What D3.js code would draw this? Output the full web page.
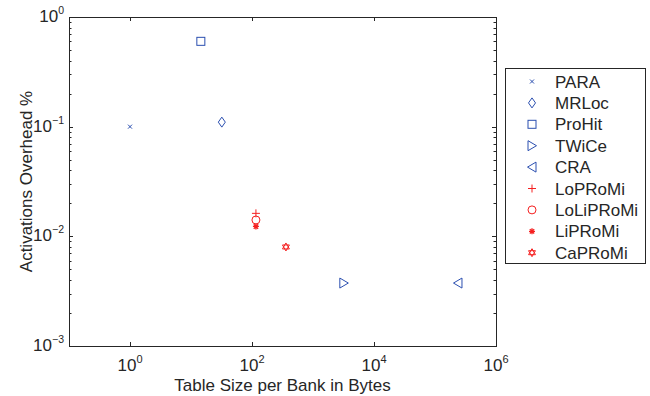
<!DOCTYPE html>
<html>
<head>
<meta charset="utf-8">
<script src="https://cdn.jsdelivr.net/npm/d3@7"></script>
<style>
body { margin: 0; background: #fff; }
svg { font-family: "Liberation Sans", Arial, sans-serif; }
</style>
</head>
<body>
<svg width="650" height="396"></svg>
<script>
const names = ['PARA', 'MRLoc', 'ProHit', 'TWiCe', 'CRA', 'LoPRoMi', 'LoLiPRoMi', 'LiPRoMi', 'CaPRoMi'];
const tableSize = [1, 32, 14.5, 3200, 238000, 116, 116, 116, 360];
const overhead = [0.1, 0.11, 0.6, 0.00375, 0.00375, 0.0162, 0.0141, 0.0123, 0.0080];
const markers = ['x', 'diamond', 'square', 'right', 'left', 'plus', 'circle', 'star', 'hexagram'];
const colors = ['#2b4fb0', '#2b4fb0', '#2b4fb0', '#2b4fb0', '#2b4fb0', '#f52020', '#f52020', '#f52020', '#f52020'];
const xTicks = [0, 2, 4, 6];
const yTicks = [0, -1, -2, -3];

const svg = d3.select('svg');
const pLeft = 69, pRight = 496, pTop = 17, pBottom = 346;
const fs = 17;

const x = d3.scaleLog().domain([0.1, 1e6]).range([pLeft, pRight]);
const y = d3.scaleLog().domain([1e-3, 1]).range([pBottom, pTop]);

// box
svg.append('rect')
.attr('x', pLeft + 0.5).attr('y', pTop + 0.5)
.attr('width', pRight - pLeft).attr('height', pBottom - pTop)
.attr('fill', 'none').attr('stroke', '#262626').attr('stroke-width', 1);

const ticks = svg.append('g').attr('stroke', '#262626').attr('stroke-width', 1);
xTicks.forEach(e => {
    const px = Math.round(x(Math.pow(10, e))) + 0.5;
    ticks.append('line').attr('x1', px).attr('x2', px).attr('y1', pBottom).attr('y2', pBottom - 4);
    ticks.append('line').attr('x1', px).attr('x2', px).attr('y1', pTop).attr('y2', pTop + 4);
});
yTicks.forEach(e => {
    for (let k = 1; k <= 9; k++) {
        const v = k * Math.pow(10, e);
        if (e === 0 && k > 1) continue;
        const py = Math.round(y(v)) + 0.5;
        const len = k === 1 ? 4 : 2.5;
        ticks.append('line').attr('x1', pLeft).attr('x2', pLeft + len).attr('y1', py).attr('y2', py);
        ticks.append('line').attr('x1', pRight).attr('x2', pRight - len).attr('y1', py).attr('y2', py);
    }
});

// tick labels
xTicks.forEach(e => {
    const t = svg.append('text')
    .attr('x', x(Math.pow(10, e))).attr('y', 371)
    .attr('text-anchor', 'middle')
    .attr('font-size', fs).attr('fill', '#262626');
    t.append('tspan').text('10');
    t.append('tspan').attr('dy', -8).attr('font-size', 11).text(e);
});
yTicks.forEach(e => {
    const t = svg.append('text')
    .attr('x', 64).attr('y', y(Math.pow(10, e)) + 5)
    .attr('text-anchor', 'end')
    .attr('font-size', fs).attr('fill', '#262626');
    t.append('tspan').text('10');
    t.append('tspan').attr('dy', -8).attr('font-size', 10.5).text(e === 0 ? '0' : '\u2212' + (-e));
});

svg.append('text')
.attr('x', (pLeft + pRight) / 2).attr('y', 391)
.attr('text-anchor', 'middle').attr('font-size', fs).attr('fill', '#262626')
.text('Table Size per Bank in Bytes');

svg.append('text')
.attr('transform', 'translate(32,' + ((pTop + pBottom) / 2) + ') rotate(-90)')
.attr('text-anchor', 'middle').attr('font-size', fs).attr('fill', '#262626')
.text('Activations Overhead %');

function drawMarker(g, type, color) {
    let p;
    if (type === 'x') {
        p = g.append('path').attr('d', 'M-2,-2L2,2M-2,2L2,-2');
    } else if (type === 'diamond') {
        p = g.append('path').attr('d', 'M0,-5L3.5,0L0,5L-3.5,0Z');
    } else if (type === 'square') {
        p = g.append('rect').attr('x', -4).attr('y', -4).attr('width', 8).attr('height', 8);
    } else if (type === 'right') {
        p = g.append('path').attr('d', 'M-4,-5L4.5,0L-4,5Z');
    } else if (type === 'left') {
        p = g.append('path').attr('d', 'M4,-5L-4.5,0L4,5Z');
    } else if (type === 'plus') {
        p = g.append('path').attr('d', 'M-4,0L4,0M0,-4L0,4');
    } else if (type === 'circle') {
        p = g.append('circle').attr('r', 4);
    } else if (type === 'star') {
        p = g.append('path').attr('d', 'M-3,0L3,0M0,-3L0,3M-2.2,-2.2L2.2,2.2M-2.2,2.2L2.2,-2.2')
        .attr('stroke-width', 1.3);
    } else if (type === 'hexagram') {
        const r = 4;
        const tri = a => d3.range(3).map(i => {
            const ang = a + i * 2 * Math.PI / 3;
            return [r * Math.sin(ang), -r * Math.cos(ang)];
        });
        p = g.append('path').attr('d', d3.line()(tri(0)) + 'Z' + d3.line()(tri(Math.PI)) + 'Z');
    }
    p.attr('fill', 'none').attr('stroke', color);
    if (p.attr('stroke-width') === null) p.attr('stroke-width', 1);
}

names.forEach((n, i) => {
    const g = svg.append('g').attr('transform', 'translate(' + x(tableSize[i]) + ',' + y(overhead[i]) + ')');
    drawMarker(g, markers[i], colors[i]);
});

// legend
const lg = svg.append('g');
lg.append('rect').attr('x', 505.5).attr('y', 68.5).attr('width', 140).attr('height', 195)
.attr('fill', '#fff').attr('stroke', '#262626').attr('stroke-width', 1);
names.forEach((n, i) => {
    const ly = 81.5 + i * 21.4;
    const g = lg.append('g').attr('transform', 'translate(532,' + ly + ')');
    drawMarker(g, markers[i], colors[i]);
    lg.append('text').attr('x', 555).attr('y', ly + 6)
    .attr('font-size', fs).attr('fill', '#262626').text(n);
});
</script>
</body>
</html>
